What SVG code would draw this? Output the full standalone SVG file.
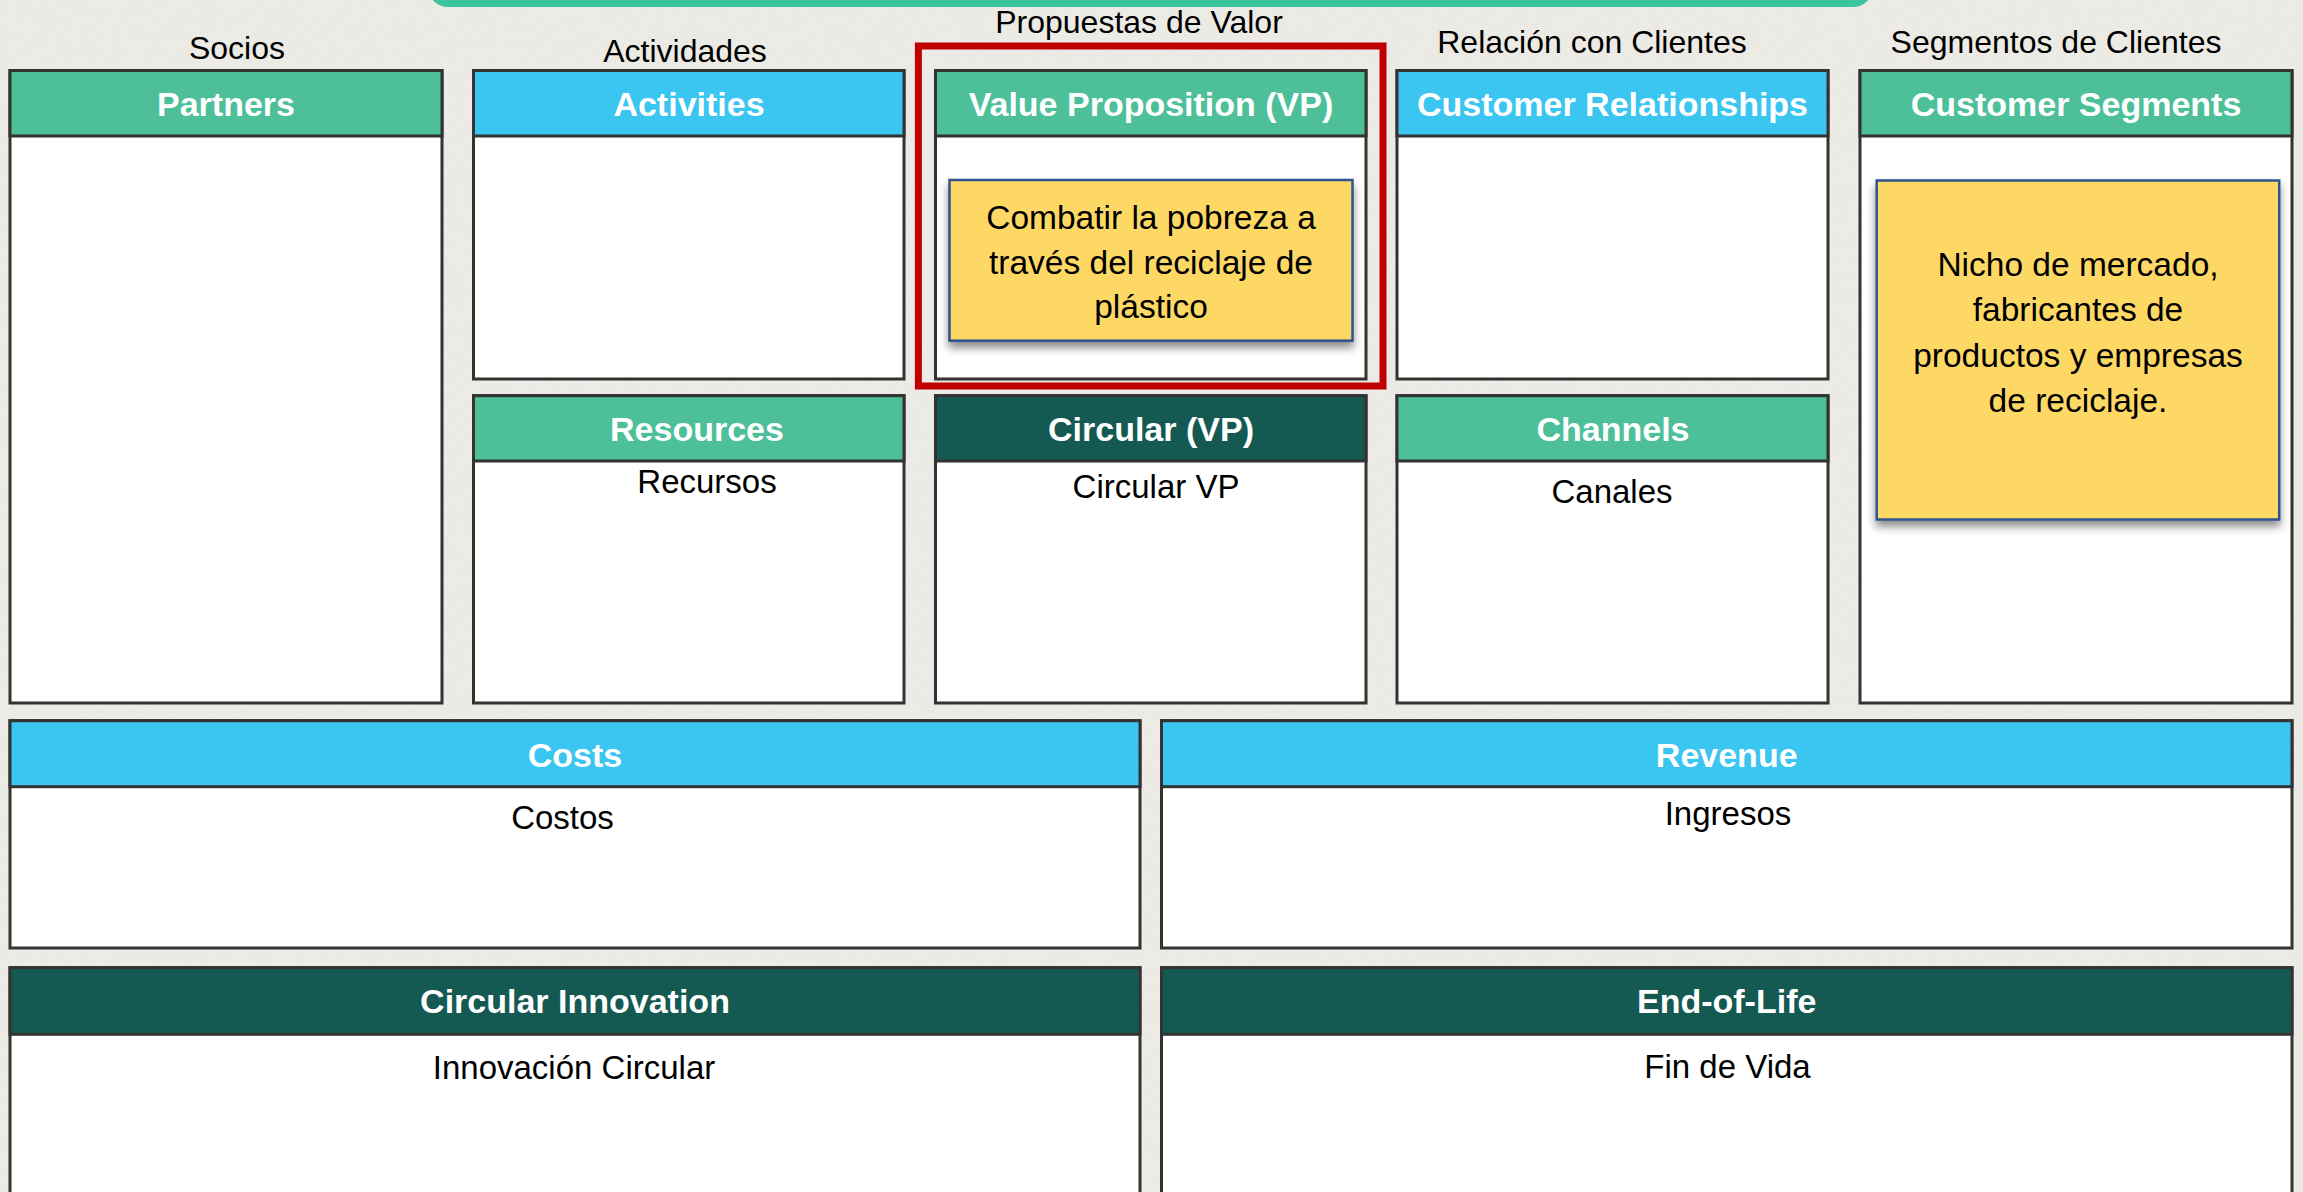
<svg xmlns="http://www.w3.org/2000/svg" width="2303" height="1192" viewBox="0 0 2303 1192">
  <defs>
    <filter id="paper" x="0" y="0" width="100%" height="100%">
      <feTurbulence type="fractalNoise" baseFrequency="0.9" numOctaves="2" seed="4" result="n"/>
      <feColorMatrix in="n" type="matrix" values="0 0 0 0 0.6  0 0 0 0 0.57  0 0 0 0 0.52  0 0 0 0.22 -0.06"/>
    </filter>
    <filter id="shadow" x="-10%" y="-10%" width="120%" height="130%">
      <feDropShadow dx="0" dy="6" stdDeviation="4" flood-color="#000" flood-opacity="0.45"/>
    </filter>
    <style>
      .body { fill: #ffffff; stroke: #333333; stroke-width: 3; }
      .hdr { stroke: #333333; stroke-width: 3; }
      .green { fill: #4dbf99; }
      .blue { fill: #3bc5f1; }
      .dark { fill: #155a52; }
      .h { font-family: "Liberation Sans", Arial, sans-serif; font-weight: bold; font-size: 34px; fill: #ffffff; text-anchor: middle; }
      .lbl { font-family: "Liberation Sans", Arial, sans-serif; font-size: 32px; fill: #000000; text-anchor: middle; }
      .txt { font-family: "Liberation Sans", Arial, sans-serif; font-size: 33px; fill: #000000; text-anchor: middle; }
      .note { font-size: 33.5px; }
      .sticky { fill: #fed865; stroke: #2f528f; stroke-width: 2.5; }
    </style>
  </defs>

  <rect x="0" y="0" width="2303" height="1192" fill="#eeece7"/>
  <rect x="0" y="0" width="2303" height="1192" filter="url(#paper)"/>

  <rect id="top-bar" x="428" y="-40" width="1445" height="47" rx="20" fill="#3cc59c"/>

  <g id="column-labels">
    <text class="lbl" x="237" y="59">Socios</text>
    <text class="lbl" x="685" y="62">Actividades</text>
    <text class="lbl" x="1139" y="33" font-size="33">Propuestas de Valor</text>
    <text class="lbl" x="1592" y="53">Relación con Clientes</text>
    <text class="lbl" x="2056" y="53">Segmentos de Clientes</text>
  </g>

  <g id="partners">
    <rect class="body" x="10" y="70.5" width="432" height="632.5"/>
    <rect class="hdr green" x="10" y="70.5" width="432" height="65.5"/>
    <text class="h" x="226" y="116">Partners</text>
  </g>

  <g id="activities">
    <rect class="body" x="473.5" y="70.5" width="430.5" height="308.5"/>
    <rect class="hdr blue" x="473.5" y="70.5" width="430.5" height="65.5"/>
    <text class="h" x="689" y="116">Activities</text>
  </g>

  <g id="resources">
    <rect class="body" x="473.5" y="395.7" width="430.5" height="307.3"/>
    <rect class="hdr green" x="473.5" y="395.7" width="430.5" height="65.3"/>
    <text class="h" x="697" y="441">Resources</text>
    <text class="txt" x="707" y="493">Recursos</text>
  </g>

  <g id="value-proposition">
    <rect class="body" x="935.5" y="70.5" width="430.5" height="308.5"/>
    <rect class="hdr green" x="935.5" y="70.5" width="430.5" height="65.5"/>
    <text class="h" x="1151" y="116">Value Proposition (VP)</text>
  </g>

  <g id="vp-highlight">
    <rect x="918.4" y="46" width="464.6" height="340" fill="none" stroke="#c00000" stroke-width="7"/>
  </g>

  <g id="vp-note">
    <rect class="sticky" x="949.5" y="180" width="403" height="160.7" filter="url(#shadow)"/>
    <text class="txt note" x="1151" y="229">Combatir la pobreza a</text>
    <text class="txt note" x="1151" y="274">través del reciclaje de</text>
    <text class="txt note" x="1151" y="318">plástico</text>
  </g>

  <g id="circular-vp">
    <rect class="body" x="935.5" y="395.7" width="430.5" height="307.3"/>
    <rect class="hdr dark" x="935.5" y="395.7" width="430.5" height="65.3"/>
    <text class="h" x="1151" y="441">Circular (VP)</text>
    <text class="txt" x="1156" y="498">Circular VP</text>
  </g>

  <g id="customer-relationships">
    <rect class="body" x="1397" y="70.5" width="431" height="308.5"/>
    <rect class="hdr blue" x="1397" y="70.5" width="431" height="65.5"/>
    <text class="h" x="1612.5" y="116">Customer Relationships</text>
  </g>

  <g id="channels">
    <rect class="body" x="1397" y="395.7" width="431" height="307.3"/>
    <rect class="hdr green" x="1397" y="395.7" width="431" height="65.3"/>
    <text class="h" x="1613" y="441">Channels</text>
    <text class="txt" x="1612" y="503">Canales</text>
  </g>

  <g id="customer-segments">
    <rect class="body" x="1860" y="70.5" width="432" height="632.5"/>
    <rect class="hdr green" x="1860" y="70.5" width="432" height="65.5"/>
    <text class="h" x="2076" y="116">Customer Segments</text>
  </g>

  <g id="cs-note">
    <rect class="sticky" x="1876.7" y="180.5" width="402.5" height="339" filter="url(#shadow)"/>
    <text class="txt note" x="2078" y="276">Nicho de mercado,</text>
    <text class="txt note" x="2078" y="321">fabricantes de</text>
    <text class="txt note" x="2078" y="366.5">productos y empresas</text>
    <text class="txt note" x="2078" y="411.5">de reciclaje.</text>
  </g>

  <g id="costs">
    <rect class="body" x="10" y="720.7" width="1130" height="227.3"/>
    <rect class="hdr blue" x="10" y="720.7" width="1130" height="66"/>
    <text class="h" x="575" y="766.7">Costs</text>
    <text class="txt" x="562.5" y="829">Costos</text>
  </g>

  <g id="revenue">
    <rect class="body" x="1161.5" y="720.7" width="1130.5" height="227.3"/>
    <rect class="hdr blue" x="1161.5" y="720.7" width="1130.5" height="66"/>
    <text class="h" x="1726.7" y="766.7">Revenue</text>
    <text class="txt" x="1728" y="825">Ingresos</text>
  </g>

  <g id="circular-innovation">
    <rect class="body" x="10" y="967.7" width="1130" height="240"/>
    <rect class="hdr dark" x="10" y="967.7" width="1130" height="66.6"/>
    <text class="h" x="575" y="1013">Circular Innovation</text>
    <text class="txt" x="574" y="1079">Innovación Circular</text>
  </g>

  <g id="end-of-life">
    <rect class="body" x="1161.5" y="967.7" width="1130.5" height="240"/>
    <rect class="hdr dark" x="1161.5" y="967.7" width="1130.5" height="66.6"/>
    <text class="h" x="1726.7" y="1013">End-of-Life</text>
    <text class="txt" x="1727.5" y="1078">Fin de Vida</text>
  </g>

  <g id="connectors"/>
</svg>
